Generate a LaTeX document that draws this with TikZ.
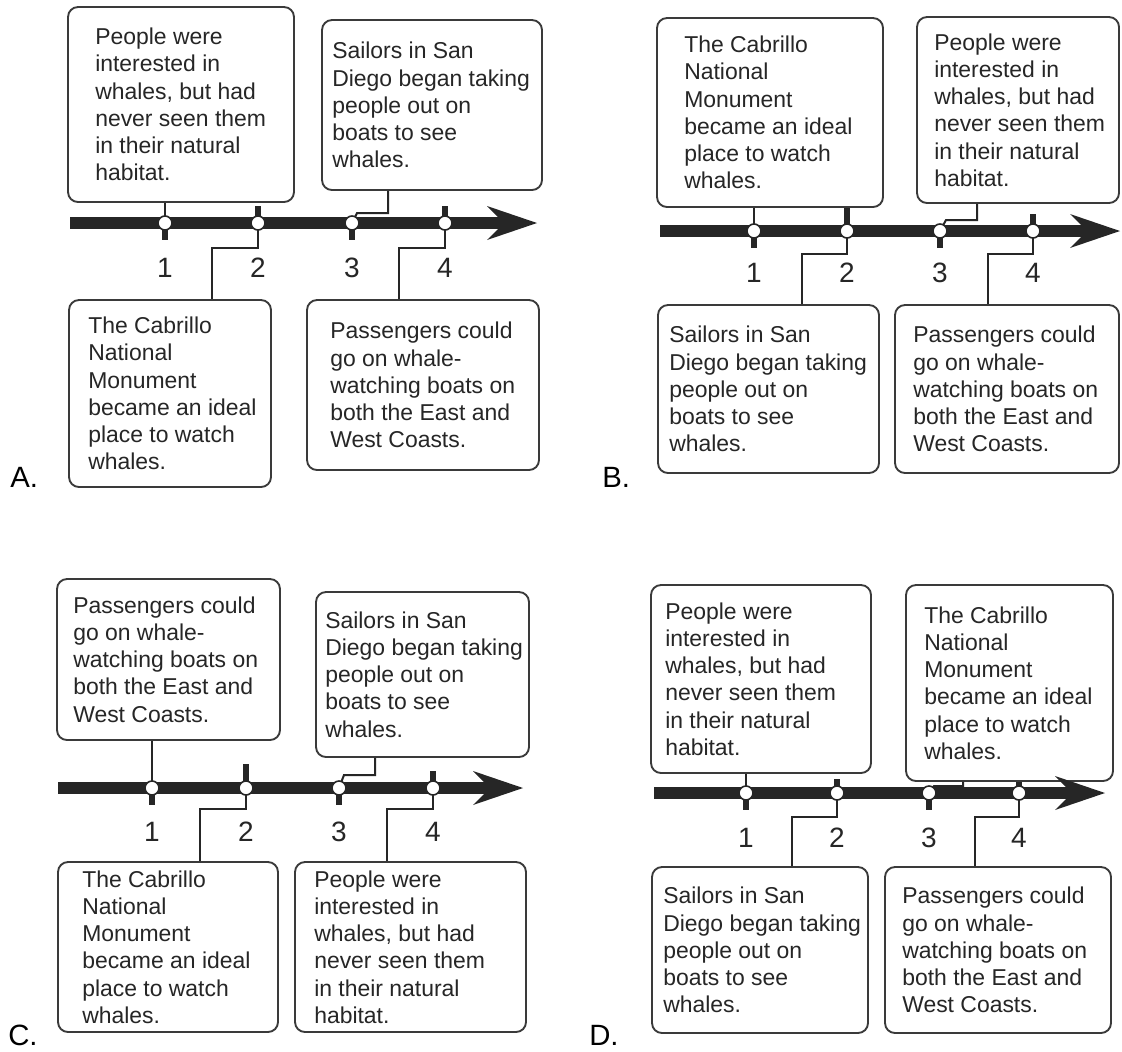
\documentclass[tikz,border=0pt]{standalone}
\usepackage{fontspec}
\setmainfont{Liberation Sans}
\usetikzlibrary{fit}
\definecolor{ink}{HTML}{262626}
\definecolor{edge}{HTML}{3A3A3A}
\newcommand\txPeople{People were\\interested in\\whales, but had\\never seen them\\in their natural\\habitat.}
\newcommand\txSailors{Sailors in San\\Diego began taking\\people out on\\boats to see\\whales.}
\newcommand\txCab{The Cabrillo\\National\\Monument\\became an ideal\\place to watch\\whales.}
\newcommand\txPass{Passengers could\\go on whale-\\watching boats on\\both the East and\\West Coasts.}
\newcommand\evtxt[7]{%
  \coordinate (#1nw) at (#2,#3);
  \coordinate (#1se) at (#4,#5);
  \node[evbox, fit=(#1nw)(#1se)] (#1) {};
  \node[evtext, anchor=west] (#1t) at (#6,{(#3+#5)/2}) {#7};
}
\tikzset{
  evbox/.style={draw=edge, line width=1.4pt, rounded corners=7.5pt, inner sep=0pt, fill=white},
  evtext/.style={inner sep=0pt, align=left, text=ink, font=\fontsize{17.2pt}{20.4pt}\selectfont},
  timeln/.style={line width=8.5pt, draw=ink},
  tickbar/.style={line width=4.5pt, draw=ink},
  conn/.style={line width=1.5pt, draw=ink},
  mk/.style={circle, draw=ink, fill=white, line width=1.2pt, minimum size=10.5pt, inner sep=0pt},
  num/.style={text=ink, font=\fontsize{21pt}{24pt}\selectfont, inner sep=0pt},
  lbl/.style={text=black, font=\fontsize{22pt}{26pt}\selectfont, inner sep=0pt, anchor=base west},
}
\begin{document}
\begin{tikzpicture}[x=0.75pt, y=-0.75pt]
\path[fill=white, use as bounding box] (0,0) rectangle (1122,1051);

%% ---------------- Panel A ----------------
\evtxt{A1}{68}{7}{294}{202}{95}{\txPeople}
\evtxt{A3}{322}{20}{542}{190}{332}{\txSailors}
\evtxt{A2}{69}{300}{271}{487}{88}{\txCab}
\evtxt{A4}{307}{300}{539}{470}{330}{\txPass}
\coordinate (As) at (70,223);
\coordinate (Aneck) at (505,223);
\coordinate (Atip) at (537,223);
\draw[timeln] (As) -- (Aneck);
\fill[ink] (Atip) -- ++(-50,-17) -- ++(17,17) -- ++(-17,17) -- cycle;
\coordinate (Am1) at (165,223);
\coordinate (Am2) at (258,223);
\coordinate (Am3) at (352,223);
\coordinate (Am4) at (445,223);
\draw[tickbar] (Am1) -- ++(0,17);
\draw[tickbar] (Am2) -- ++(0,-17);
\draw[tickbar] (Am3) -- ++(0,17);
\draw[tickbar] (Am4) -- ++(0,-17);
\draw[conn] (A1.south -| Am1) -- (Am1);
\coordinate (A3b) at (388,213);
\draw[conn] (A3.south -| A3b) -- (A3b) -- ++(-31,0) -- (Am3);
\coordinate (A2b) at (212,248);
\draw[conn] (Am2) |- (A2b) -- (A2b |- A2.north);
\coordinate (A4b) at (399,248);
\draw[conn] (Am4) |- (A4b) -- (A4b |- A4.north);
\foreach \i in {1,...,4} {
  \node[mk] (Ac\i) at (Am\i) {};
  \node[num] (An\i) at (Am\i |- 0,268) {\i};
}
\node[lbl] (Alab) at (10,487) {A.};

%% ---------------- Panel B ----------------
\evtxt{B1}{657}{18}{883}{207}{684}{\txCab}
\evtxt{B3}{917}{17}{1119}{203}{934}{\txPeople}
\evtxt{B2}{658}{305}{879}{473}{669}{\txSailors}
\evtxt{B4}{895}{305}{1119}{473}{913}{\txPass}
\coordinate (Bs) at (660,231);
\coordinate (Bneck) at (1088,231);
\coordinate (Btip) at (1120,231);
\draw[timeln] (Bs) -- (Bneck);
\fill[ink] (Btip) -- ++(-50,-17) -- ++(17,17) -- ++(-17,17) -- cycle;
\coordinate (Bm1) at (754,231);
\coordinate (Bm2) at (847,231);
\coordinate (Bm3) at (940,231);
\coordinate (Bm4) at (1033,231);
\draw[tickbar] (Bm1) -- ++(0,17);
\draw[tickbar] (Bm2) -- (Bm2 |- B1.south);
\draw[tickbar] (Bm3) -- ++(0,17);
\draw[tickbar] (Bm4) -- ++(0,-17);
\draw[conn] (B1.south -| Bm1) -- (Bm1);
\coordinate (B3b) at (977,220);
\draw[conn] (B3.south -| B3b) -- (B3b) -- ++(-31,0) -- (Bm3);
\coordinate (B2b) at (802,254);
\draw[conn] (Bm2) |- (B2b) -- (B2b |- B2.north);
\coordinate (B4b) at (988,254);
\draw[conn] (Bm4) |- (B4b) -- (B4b |- B4.north);
\foreach \i in {1,...,4} {
  \node[mk] (Bc\i) at (Bm\i) {};
  \node[num] (Bn\i) at (Bm\i |- 0,273) {\i};
}
\node[lbl] (Blab) at (602,487) {B.};

%% ---------------- Panel C ----------------
\evtxt{C1}{57}{579}{280}{740}{73}{\txPass}
\evtxt{C3}{316}{592}{529}{757}{325}{\txSailors}
\evtxt{C2}{58}{862}{278}{1032}{82}{\txCab}
\evtxt{C4}{295}{862}{526}{1032}{314}{\txPeople}
\coordinate (Cs) at (58,788);
\coordinate (Cneck) at (491,788);
\coordinate (Ctip) at (523,788);
\draw[timeln] (Cs) -- (Cneck);
\fill[ink] (Ctip) -- ++(-50,-17) -- ++(17,17) -- ++(-17,17) -- cycle;
\coordinate (Cm1) at (152,788);
\coordinate (Cm2) at (246,788);
\coordinate (Cm3) at (339,788);
\coordinate (Cm4) at (433,788);
\draw[tickbar] (Cm1) -- ++(0,17);
\draw[tickbar] (Cm2) -- ++(0,-24);
\draw[tickbar] (Cm3) -- ++(0,17);
\draw[tickbar] (Cm4) -- ++(0,-17);
\draw[conn] (C1.south -| Cm1) -- (Cm1);
\coordinate (C3b) at (375,775);
\draw[conn] (C3.south -| C3b) -- (C3b) -- ++(-31,0) -- (Cm3);
\coordinate (C2b) at (200,809);
\draw[conn] (Cm2) |- (C2b) -- (C2b |- C2.north);
\coordinate (C4b) at (387,809);
\draw[conn] (Cm4) |- (C4b) -- (C4b |- C4.north);
\foreach \i in {1,...,4} {
  \node[mk] (Cc\i) at (Cm\i) {};
  \node[num] (Cn\i) at (Cm\i |- 0,832) {\i};
}
\node[lbl] (Clab) at (8,1045) {C.};

%% ---------------- Panel D ----------------
\evtxt{D1}{651}{585}{871}{773}{665}{\txPeople}
\evtxt{D3}{906}{585}{1113}{781}{924}{\txCab}
\evtxt{D2}{652}{867}{868}{1033}{663}{\txSailors}
\evtxt{D4}{885}{867}{1111}{1033}{902}{\txPass}
\coordinate (Ds) at (654,793);
\coordinate (Dneck) at (1073,793);
\coordinate (Dtip) at (1105,793);
\draw[timeln] (Ds) -- (Dneck);
\fill[ink] (Dtip) -- ++(-50,-17) -- ++(17,17) -- ++(-17,17) -- cycle;
\coordinate (Dm1) at (746,793);
\coordinate (Dm2) at (837,793);
\coordinate (Dm3) at (929,793);
\coordinate (Dm4) at (1019,793);
\draw[tickbar] (Dm1) -- ++(0,17);
\draw[tickbar] (Dm2) -- ++(0,-14);
\draw[tickbar] (Dm3) -- ++(0,17);
\draw[tickbar] (Dm4) -- (Dm4 |- D3.south);
\draw[conn] (D1.south -| Dm1) -- (Dm1);
\coordinate (D3b) at (963,786);
\draw[conn] (D3.south -| D3b) -- (D3b) -- ++(-29,0) -- (Dm3);
\coordinate (D2b) at (792,817);
\draw[conn] (Dm2) |- (D2b) -- (D2b |- D2.north);
\coordinate (D4b) at (975,817);
\draw[conn] (Dm4) |- (D4b) -- (D4b |- D4.north);
\foreach \i in {1,...,4} {
  \node[mk] (Dc\i) at (Dm\i) {};
  \node[num] (Dn\i) at (Dm\i |- 0,838) {\i};
}
\node[lbl] (Dlab) at (589,1045) {D.};
\end{tikzpicture}
\end{document}
